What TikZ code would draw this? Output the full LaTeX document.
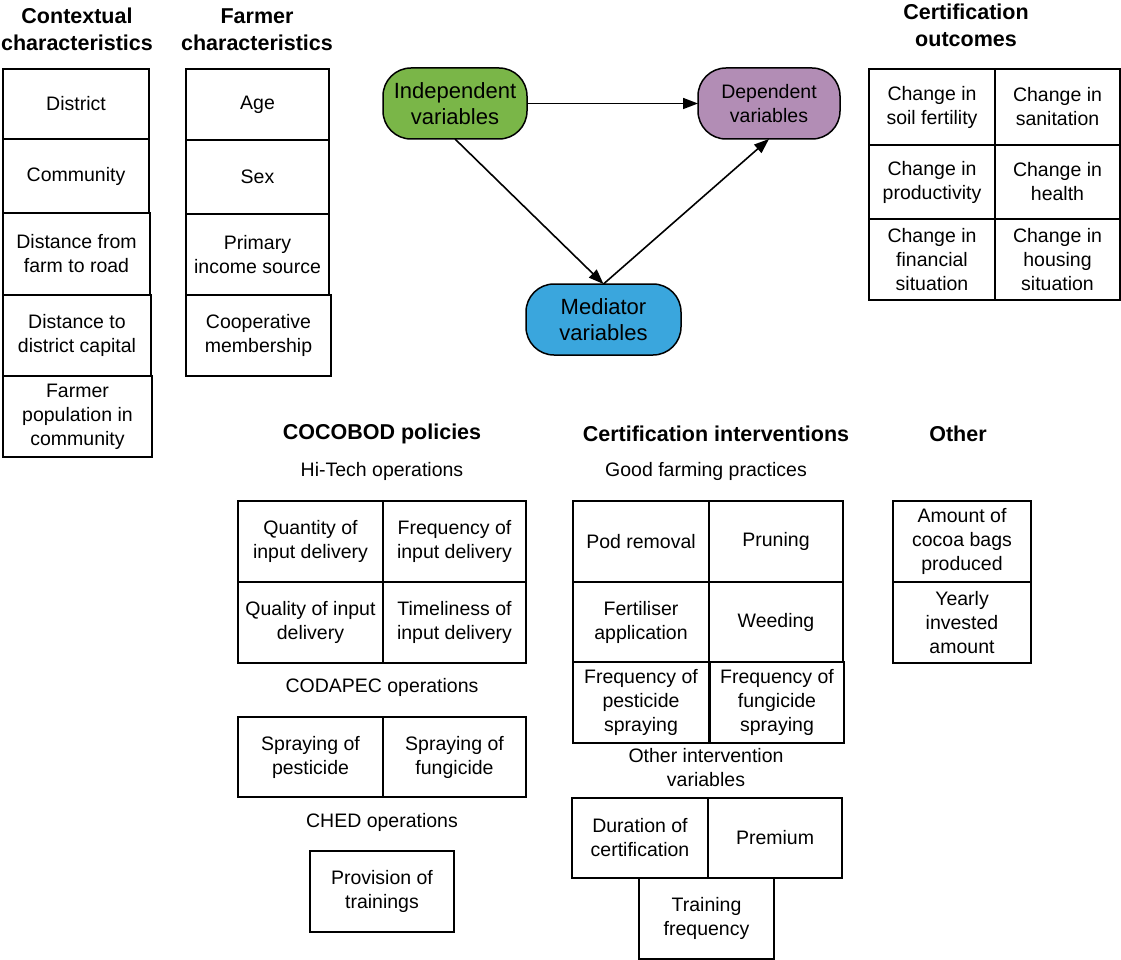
\documentclass[tikz,border=0pt]{standalone}
\usepackage{fontspec}
\setmainfont{Liberation Sans}
\usetikzlibrary{arrows.meta}
\definecolor{indepgreen}{HTML}{7AB648}
\definecolor{deppurple}{HTML}{B28DB5}
\definecolor{medblue}{HTML}{3AA6DD}
\begin{document}
\begin{tikzpicture}[x=1pt,y=-1pt,
  cell/.style={draw=black,line width=1.5pt,inner sep=0pt,outer sep=0pt,align=center,
    font=\fontsize{19.5}{24}\selectfont},
  varnode/.style={draw=black,line width=1.5pt,rounded corners=28pt,inner sep=0pt,outer sep=0pt,
    align=center,minimum width=#1,minimum height=71pt,font=\fontsize{22}{26}\selectfont},
  heading/.style={align=center,font=\fontsize{21.5}{27}\selectfont\bfseries,inner sep=0pt},
  sublabel/.style={align=center,font=\fontsize{19.5}{24}\selectfont,inner sep=0pt},
  link/.style={line width=1.6pt,-{Triangle[length=15pt,width=11pt]}}]
\useasboundingbox (0,0) rectangle (1121,960);

% Contextual characteristics
\node[heading] (hctx) at (77,29.5) {Contextual\\characteristics};
\node[cell,minimum width=146pt,minimum height=70pt] (ctxa) at (76,104) {District};
\node[cell,minimum width=146pt,minimum height=74pt] (ctxb) at (76,176) {Community};
\node[cell,minimum width=147pt,minimum height=82pt] (ctxc) at (76.5,254) {Distance from\\farm to road};
\node[cell,minimum width=148pt,minimum height=81pt] (ctxd) at (77,335.5) {Distance to\\district capital};
\node[cell,minimum width=149pt,minimum height=81pt] (ctxe) at (77.5,416.5) {Farmer\\population in\\community};

% Farmer characteristics
\node[heading] (hfarm) at (257,29.5) {Farmer\\characteristics};
\node[cell,minimum width=143pt,minimum height=71pt] (fage) at (257.5,104.5) {Age};
\node[cell,minimum width=143pt,minimum height=74pt] (fsex) at (257.5,177) {Sex};
\node[cell,minimum width=143pt,minimum height=81pt] (finc) at (257.5,254.5) {Primary\\income source};
\node[cell,minimum width=145pt,minimum height=81pt] (fcoop) at (258.5,335.5) {Cooperative\\membership};

% Variable roles
\node[varnode=144pt,fill=indepgreen] (indep) at (455,103.5) {Independent\\variables};
\node[varnode=142pt,fill=deppurple,font=\fontsize{19.5}{24}\selectfont] (dep) at (769,103.5) {Dependent\\variables};
\node[varnode=155pt,fill=medblue] (med) at (603.5,319.5) {Mediator\\variables};
\draw[link] (indep.east) -- (dep.west);
\draw[link] (indep.south) -- (med.north);
\draw[link] (med.north) -- (dep.south);

% Certification outcomes
\node[heading] (hout) at (966,25.5) {Certification\\outcomes};
\node[cell,minimum width=126pt,minimum height=76pt] (oa) at (932,107) {Change in\\soil fertility};
\node[cell,minimum width=125pt,minimum height=76pt] (ob) at (1057.5,107) {Change in\\sanitation};
\node[cell,minimum width=126pt,minimum height=74pt] (oc) at (932,182) {Change in\\productivity};
\node[cell,minimum width=125pt,minimum height=74pt] (od) at (1057.5,182) {Change in\\health};
\node[cell,minimum width=126pt,minimum height=81pt] (oe) at (932,259.5) {Change in\\financial\\situation};
\node[cell,minimum width=125pt,minimum height=81pt] (of) at (1057.5,259.5) {Change in\\housing\\situation};

% COCOBOD policies
\node[heading] (hcoco) at (382,434) {COCOBOD policies};
\node[sublabel] (lhitech) at (382,471) {Hi-Tech operations};
\node[cell,minimum width=145pt,minimum height=81pt] (ca) at (310.5,541.5) {Quantity of\\input delivery};
\node[cell,minimum width=143pt,minimum height=81pt] (cb) at (454.5,541.5) {Frequency of\\input delivery};
\node[cell,minimum width=145pt,minimum height=81pt] (cc) at (310.5,622.5) {Quality of input\\delivery};
\node[cell,minimum width=143pt,minimum height=81pt] (cd) at (454.5,622.5) {Timeliness of\\input delivery};
\node[sublabel] (lcodapec) at (382,687) {CODAPEC operations};
\node[cell,minimum width=145pt,minimum height=80pt] (ce) at (310.5,757) {Spraying of\\pesticide};
\node[cell,minimum width=143pt,minimum height=80pt] (cf) at (454.5,757) {Spraying of\\fungicide};
\node[sublabel] (lched) at (382,822) {CHED operations};
\node[cell,minimum width=144pt,minimum height=81pt] (cg) at (382,891.5) {Provision of\\trainings};

% Certification interventions
\node[heading] (hint) at (716,434) {Certification interventions};
\node[sublabel] (lgfp) at (706,471) {Good farming practices};
\node[cell,minimum width=136pt,minimum height=81pt] (ia) at (641,541.5) {Pod removal};
\node[cell,minimum width=134pt,minimum height=81pt] (ib) at (776,541.5) {Pruning};
\node[cell,minimum width=136pt,minimum height=80pt] (ic) at (641,622) {Fertiliser\\application};
\node[cell,minimum width=134pt,minimum height=80pt] (id) at (776,622) {Weeding};
\node[cell,minimum width=136pt,minimum height=81pt] (ie) at (641,702.5) {Frequency of\\pesticide\\spraying};
\node[cell,minimum width=134pt,minimum height=81pt] (if) at (777,702.5) {Frequency of\\fungicide\\spraying};
\node[sublabel] (loiv) at (706,768) {Other intervention\\variables};
\node[cell,minimum width=136pt,minimum height=80pt] (ig) at (640,838) {Duration of\\certification};
\node[cell,minimum width=134pt,minimum height=80pt] (ih) at (775,838) {Premium};
\node[cell,minimum width=135pt,minimum height=81pt] (ii) at (706.5,918.5) {Training\\frequency};

% Other
\node[heading] (hother) at (958,434) {Other};
\node[cell,minimum width=138pt,minimum height=81pt] (xa) at (962,541.5) {Amount of\\cocoa bags\\produced};
\node[cell,minimum width=138pt,minimum height=81pt] (xb) at (962,622.5) {Yearly\\invested\\amount};
\end{tikzpicture}
\end{document}
